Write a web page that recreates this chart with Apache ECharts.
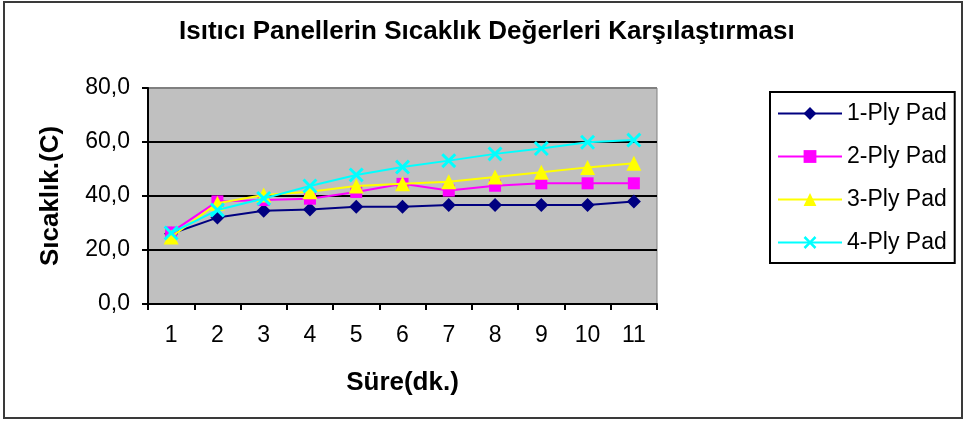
<!DOCTYPE html>
<html>
<head>
<meta charset="utf-8">
<script src="https://cdn.jsdelivr.net/npm/echarts@6/dist/echarts.min.js"></script>
<style>
html,body{margin:0;padding:0;background:#fff;}
#chart{width:966px;height:423px;}
</style>
</head>
<body>
<div id="chart"></div>
<script>
var titleText = 'Isıtıcı Panellerin Sıcaklık Değerleri Karşılaştırması';
var xAxisName = 'Süre(dk.)';
var yAxisName = 'Sıcaklık.(C)';
var categories = ['1','2','3','4','5','6','7','8','9','10','11'];
var seriesNames = ['1-Ply Pad','2-Ply Pad','3-Ply Pad','4-Ply Pad'];
var ply1 = [26.0, 32.0, 34.5, 35.0, 36.0, 36.0, 36.7, 36.7, 36.7, 36.7, 38.0];
var ply2 = [26.5, 38.0, 38.5, 39.0, 41.5, 44.5, 42.0, 43.8, 44.7, 44.7, 44.7];
var ply3 = [24.8, 37.3, 40.4, 41.6, 43.7, 44.5, 45.3, 47.0, 48.8, 50.6, 52.1];
var ply4 = [26.3, 34.8, 39.1, 43.7, 47.8, 50.7, 53.1, 55.6, 57.6, 59.9, 60.7];
var yMin = 0, yMax = 80, yStep = 20;

var FONT = '"Liberation Sans", Arial, sans-serif';
var xPath = 'path://M0,1.4 L1.4,0 L5,3.6 L8.6,0 L10,1.4 L6.4,5 L10,8.6 L8.6,10 L5,6.4 L1.4,10 L0,8.6 L3.6,5 Z';

var styles = [
  {color:'#000080', symbol:'diamond', size:14},
  {color:'#FF00FF', symbol:'rect', size:12},
  {color:'#FFFF00', symbol:'triangle', size:15},
  {color:'#00FFFF', symbol:xPath, size:15}
];
var dataSets = [ply1, ply2, ply3, ply4];

var chart = echarts.init(document.getElementById('chart'), null, {renderer:'canvas'});
var option = {
  animation: false,
  backgroundColor: '#ffffff',
  graphic: [{
    type: 'rect', z: -10, silent: true,
    shape: {x: 4, y: 2, width: 958, height: 416},
    style: {fill: 'rgba(0,0,0,0)', stroke: '#3a3a3a', lineWidth: 2}
  }],
  title: {
    text: titleText, left: 179, top: 19, padding: 0,
    textStyle: {fontFamily: FONT, fontSize: 26, fontWeight: 'bold', color: '#000'}
  },
  legend: {
    data: seriesNames,
    orient: 'vertical',
    left: 770, top: 92,
    padding: [10, 8, 9, 7],
    itemWidth: 64, itemHeight: 16, itemGap: 20,
    backgroundColor: '#fff',
    borderColor: '#000', borderWidth: 2,
    textStyle: {fontFamily: FONT, fontSize: 23, lineHeight: 23, color: '#000'}
  },
  grid: {left: 148, right: 309, top: 88, bottom: 119,
    show: true, backgroundColor: '#C0C0C0', borderColor: '#808080', borderWidth: 1},
  xAxis: {
    type: 'category', data: categories, boundaryGap: true,
    name: xAxisName, nameLocation: 'middle', nameGap: 66,
    nameTextStyle: {fontFamily: FONT, fontSize: 26, fontWeight: 'bold', color: '#000'},
    axisLine: {lineStyle: {color: '#000', width: 2}},
    axisTick: {show: true, alignWithLabel: false, length: 6, lineStyle: {color: '#000', width: 2}},
    axisLabel: {fontFamily: FONT, fontSize: 23, color: '#000', margin: 20, interval: 0}
  },
  yAxis: {
    type: 'value', min: yMin, max: yMax, interval: yStep,
    name: yAxisName, nameLocation: 'middle', nameGap: 84,
    nameTextStyle: {fontFamily: FONT, fontSize: 26, fontWeight: 'bold', color: '#000'},
    axisLine: {show: true, lineStyle: {color: '#000', width: 2}},
    axisTick: {show: true, length: 6, lineStyle: {color: '#000', width: 2}},
    axisLabel: {fontFamily: FONT, fontSize: 23, color: '#000', margin: 18,
      formatter: function (v) { return v.toFixed(1).replace('.', ','); }},
    splitLine: {show: true, lineStyle: {color: ['#000','#000','#000','#000','#808080'], width: 2}}
  },
  series: seriesNames.map(function (n, i) {
    return {
      name: n, type: 'line', data: dataSets[i],
      symbol: styles[i].symbol, symbolSize: styles[i].size, showAllSymbol: true,
      lineStyle: {color: styles[i].color, width: 2},
      itemStyle: {color: styles[i].color},
      z: 2 + i
    };
  })
};
chart.setOption(option);
</script>
</body>
</html>
